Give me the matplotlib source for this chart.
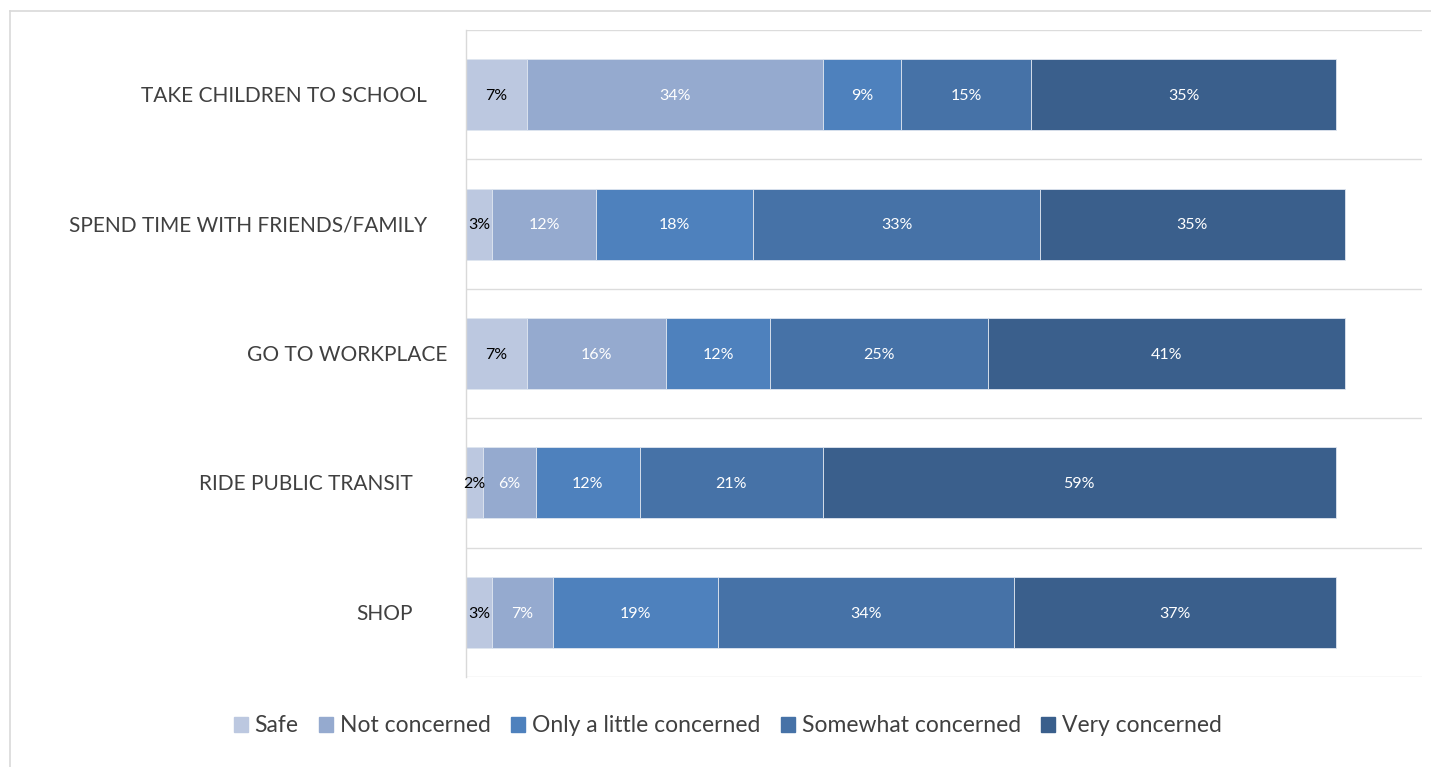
import matplotlib
matplotlib.use("Agg")
import matplotlib.pyplot as plt
from matplotlib.lines import Line2D
import numpy as np

categories = ["TAKE CHILDREN TO SCHOOL", "SPEND TIME WITH FRIENDS/FAMILY",
              "GO TO WORKPLACE", "RIDE PUBLIC TRANSIT", "SHOP"]
series_names = ["Safe", "Not concerned", "Only a little concerned",
                "Somewhat concerned", "Very concerned"]
safe = [7, 3, 7, 2, 3]
not_concerned = [34, 12, 16, 6, 7]
little = [9, 18, 12, 12, 19]
somewhat = [15, 33, 25, 21, 34]
very = [35, 35, 41, 59, 37]

colors = ["#BCC8E0", "#95AACF", "#4E81BD", "#4672A7", "#3A5F8C"]
label_colors = ["black", "white", "white", "white", "white"]
label_xshift_px = [0, 0, 20, -14, -14]

plt.rcParams['font.family'] = ['Lato', 'DejaVu Sans']

fig = plt.figure(figsize=(14.31, 7.67), dpi=100)
W, H = 1431, 767
ax = fig.add_axes([466 / W, 1 - 677 / H, (1422 - 466) / W, (677 - 30) / H])

data = [safe, not_concerned, little, somewhat, very]
y = np.arange(len(categories))
left = np.zeros(len(categories))
for vals, name, c, lc in zip(data, series_names, colors, label_colors):
    vals = np.array(vals, dtype=float)
    bars = ax.barh(y, vals, left=left, height=0.55, color=c, label=name,
                   edgecolor="#dfe6f0", linewidth=0.6)
    for b, v in zip(bars, vals):
        ax.text(b.get_x() + b.get_width() / 2, b.get_y() + b.get_height() / 2 + 0.01,
                f"{int(v)}%", ha="center", va="center", color=lc, fontsize=11.5)
    left += vals

ax.set_xlim(0, 109.9)
ax.set_ylim(len(categories) - 0.5, -0.5)
ax.set_xticks([])
ax.set_yticks([])
for s in ["top", "right", "bottom"]:
    ax.spines[s].set_visible(False)
ax.spines["left"].set_color("#d9d9d9")
ax.spines["left"].set_linewidth(1.0)
for g in np.arange(len(categories) + 1) - 0.5:
    ax.axhline(g, color="#dcdcdc", linewidth=1.0, zorder=0)

# category labels
for i, (cat, sh) in enumerate(zip(categories, label_xshift_px)):
    ax.annotate(cat, xy=(0, i + 0.01), xycoords=("axes fraction", "data"),
                xytext=((-39 + sh) * 0.72, 0), textcoords="offset points",
                ha="right", va="center", fontsize=15, color="#404040")

# legend
handles = [plt.Rectangle((0, 0), 1, 1, color=c) for c in colors]
fig.legend(handles, series_names, loc="center", bbox_to_anchor=(728 / W, 1 - 726 / H),
           ncol=5, frameon=False, fontsize=16.5, handlelength=0.6, handleheight=0.6,
           handletextpad=0.3, columnspacing=0.9, labelcolor="#404040")

# outer frame
fig.add_artist(Line2D([10 / W, 1], [1 - 11 / H, 1 - 11 / H], color="#d9d9d9", lw=1.2))
fig.add_artist(Line2D([10 / W, 10 / W], [1 - 11 / H, 0], color="#d9d9d9", lw=1.2))

fig.savefig("out.png", dpi=100)
